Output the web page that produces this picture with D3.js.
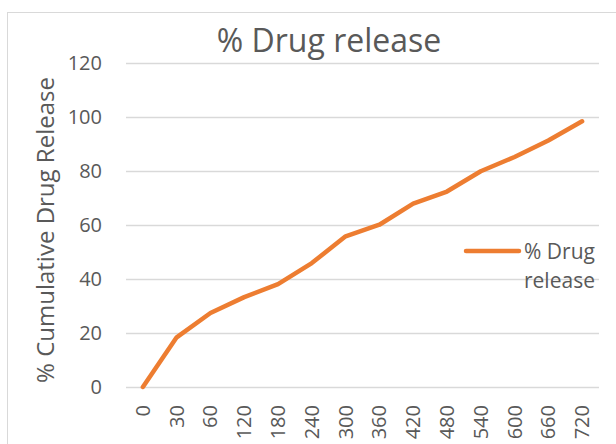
<!DOCTYPE html>
<html>
<head>
<meta charset="utf-8">
<script src="https://cdn.jsdelivr.net/npm/d3@7"></script>
<style>
  body { margin: 0; background: #fff; }
  text { font-family: "Open Sans", sans-serif; fill: #595959; }
</style>
</head>
<body>
<div id="chart"></div>
<script>
// Time points (min) and cumulative release values
var times = ["0", "30", "60", "120", "180", "240", "300", "360", "420", "480", "540", "600", "660", "720"];
var release = [0, 18.4, 27.4, 33.3, 38.1, 45.9, 55.8, 60.1, 67.9, 72.4, 79.9, 85.2, 91.3, 98.4];
var yTicks = [0, 20, 40, 60, 80, 100, 120];
var seriesName = "% Drug release";

var width = 616, height = 444;
var margin = { left: 126, right: 17, top: 63, bottom: 57 };

var svg = d3.select("#chart")
    .append("svg")
    .attr("width", width)
    .attr("height", height);

// chart frame
svg.append("rect")
    .attr("x", 7.5).attr("y", 12.5)
    .attr("width", 640).attr("height", 460)
    .style("fill", "none")
    .style("stroke", "#d9d9d9");

var x = d3.scaleBand()
    .domain(times)
    .range([margin.left, width - margin.right]);

var y = d3.scaleLinear()
    .domain([0, 120])
    .range([height - margin.bottom, margin.top]);

// gridlines + y labels
var yAxis = svg.append("g")
    .attr("transform", "translate(" + margin.left + ",0)")
    .call(d3.axisLeft(y).tickValues(yTicks)
        .tickSize(-(width - margin.left - margin.right))
        .tickPadding(24));
yAxis.select(".domain").remove();
yAxis.selectAll(".tick line").style("stroke", "#d9d9d9").style("stroke-width", 1.5);
yAxis.selectAll(".tick text").style("font-size", "20px").style("fill", "#595959");

// x labels, rotated
var xAxis = svg.append("g")
    .attr("transform", "translate(0," + y(0) + ")")
    .call(d3.axisBottom(x).tickSize(0));
xAxis.select(".domain").remove();
xAxis.selectAll(".tick text")
    .attr("transform", "rotate(-90)")
    .attr("x", -18).attr("y", 0).attr("dy", "0.35em")
    .style("text-anchor", "end")
    .style("font-size", "20px")
    .style("fill", "#595959");

// line
var line = d3.line()
    .x(function(d, i) { return x(times[i]) + x.bandwidth() / 2; })
    .y(function(d) { return y(d); });

svg.append("path")
    .datum(release)
    .attr("d", line)
    .style("fill", "none")
    .style("stroke", "#ED7D31")
    .style("stroke-width", 4.5)
    .style("stroke-linejoin", "round")
    .style("stroke-linecap", "round");

// title
svg.append("text")
    .attr("x", 329).attr("y", 52)
    .style("text-anchor", "middle")
    .style("font-size", "32px")
    .text(seriesName);

// y axis title
svg.append("text")
    .attr("transform", "translate(54,230) rotate(-90)")
    .style("text-anchor", "middle")
    .style("font-size", "24px")
    .text("% Cumulative Drug Release");

// legend
var legend = svg.append("g").attr("transform", "translate(466,251)");
legend.append("line")
    .attr("x1", 0).attr("x2", 53)
    .style("stroke", "#ED7D31")
    .style("stroke-width", 4.5)
    .style("stroke-linecap", "round");
legend.append("text")
    .attr("x", 58).attr("y", 8)
    .style("font-size", "21px")
    .text("% Drug");
legend.append("text")
    .attr("x", 58).attr("y", 37)
    .style("font-size", "21px")
    .text("release");
</script>
</body>
</html>
